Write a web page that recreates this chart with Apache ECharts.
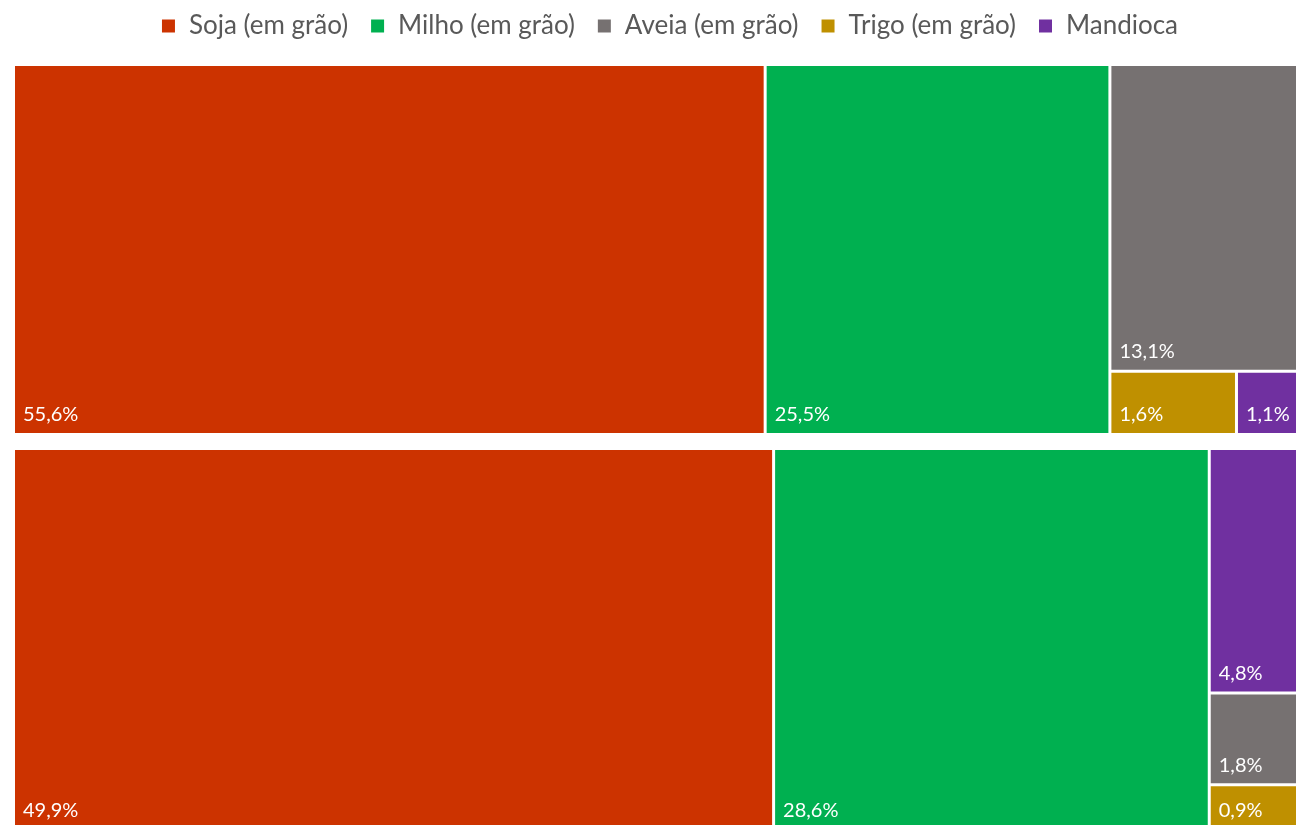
<!DOCTYPE html>
<html>
<head>
<meta charset="utf-8">
<script src="https://cdn.jsdelivr.net/npm/echarts@6/dist/echarts.min.js"></script>
<style>
html,body{margin:0;padding:0;overflow:hidden;background:#fff;}
#chart{width:1340px;height:840px;}
</style>
</head>
<body>
<div id="chart"></div>
<script>
const categories = ['Soja (em grão)', 'Milho (em grão)', 'Aveia (em grão)', 'Trigo (em grão)', 'Mandioca'];
const colors = ['#CC3300', '#00B050', '#767171', '#BF9000', '#7030A0'];
const groupA = [55.6, 25.5, 13.1, 1.6, 1.1];
const groupB = [49.9, 28.6, 1.8, 0.9, 4.8];

const fmt = v => v.toFixed(1).replace('.', ',') + '%';

function leaves(values) {
  return categories.map((name, i) => ({
    name: name,
    value: values[i],
    itemStyle: { color: colors[i] }
  }));
}

function treemap(values, top, height) {
  return {
    type: 'treemap',
    left: 15,
    top: top,
    width: 1307,
    height: height,
    roam: false,
    nodeClick: false,
    breadcrumb: { show: false },
    silent: true,
    sort: 'desc',
    squareRatio: 0.5 * (1 + Math.sqrt(5)),
    levels: [
      { itemStyle: { borderWidth: 0, gapWidth: 3, borderColor: '#fff' } },
      { itemStyle: { borderWidth: 0, gapWidth: 0 } }
    ],
    label: {
      show: true,
      position: 'insideBottomLeft',
      distance: 3,
      color: '#fff',
      fontFamily: 'Lato, "Open Sans", sans-serif',
      fontSize: 20,
      formatter: p => fmt(p.value)
    },
    data: leaves(values)
  };
}

const legendSeries = categories.map((name, i) => ({
  type: 'scatter',
  name: name,
  data: [],
  itemStyle: { color: colors[i], opacity: 1 }
}));

const chart = echarts.init(document.getElementById('chart'), null, { renderer: 'canvas' });
chart.setOption({
  animation: false,
  grid: { show: false, left: 0, top: 0, width: 1, height: 1 },
  xAxis: { show: false, type: 'value' },
  yAxis: { show: false, type: 'value' },
  legend: {
    top: 8,
    left: 'center',
    icon: 'rect',
    itemWidth: 13,
    itemHeight: 13,
    itemGap: 23,
    selectedMode: false,
    itemStyle: { opacity: 1 },
    textStyle: {
      color: '#595959',
      fontSize: 26,
      fontFamily: 'Lato, "Open Sans", sans-serif',
      padding: [0, 0, 0, 9]
    },
    data: categories
  },
  series: [
    treemap(groupA, 66, 367),
    treemap(groupB, 450, 379)
  ].concat(legendSeries)
});
</script>
</body>
</html>
